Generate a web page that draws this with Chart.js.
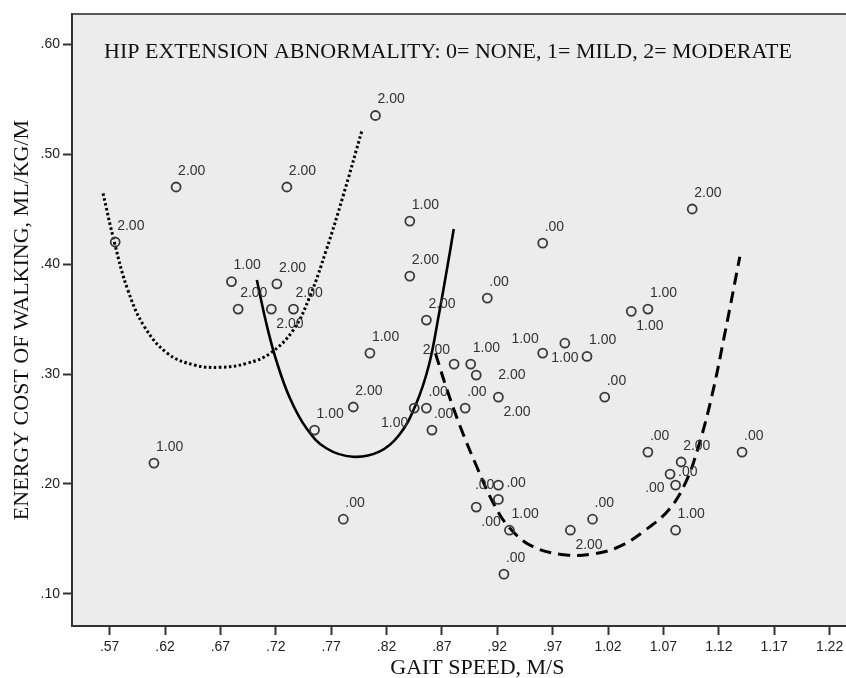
<!DOCTYPE html>
<html>
<head>
<meta charset="utf-8">
<script src="https://cdn.jsdelivr.net/npm/chart.js@4.4.1/dist/chart.umd.min.js"></script>
<style>
html,body{margin:0;padding:0;background:#ffffff;overflow:hidden;width:846px;height:678px}
canvas{display:block}
</style>
</head>
<body>
<canvas id="c" width="889" height="678"></canvas>
<script>
// ---------- text ----------
const chartTitle = 'HIP EXTENSION ABNORMALITY: 0= NONE, 1= MILD, 2= MODERATE';
const xAxisTitle = 'GAIT SPEED, M/S';
const yAxisTitle = 'ENERGY COST OF WALKING, ML/KG/M';

// ---------- ticks ----------
const xTickValues = [0.57, 0.62, 0.67, 0.72, 0.77, 0.82, 0.87, 0.92, 0.97, 1.02, 1.07, 1.12, 1.17, 1.22];
const xTickLabels = ['.57', '.62', '.67', '.72', '.77', '.82', '.87', '.92', '.97', '1.02', '1.07', '1.12', '1.17', '1.22'];
const yTickValues = [0.10, 0.20, 0.30, 0.40, 0.50, 0.60];
const yTickLabels = ['.10', '.20', '.30', '.40', '.50', '.60'];

// ---------- observations ----------
const gaitSpeed = [
  0.575, 0.630, 0.730, 0.810, 0.841, 0.841, 0.680, 0.721, 0.686, 0.716,
  0.736, 0.755, 0.790, 0.610, 0.781, 0.961, 0.911, 0.856, 0.805, 0.881,
  0.896, 0.901, 0.961, 0.981, 1.001, 0.921, 0.891, 0.856, 0.845, 0.861,
  1.017, 0.901, 0.921, 0.921, 0.931, 0.926, 0.986, 1.006, 1.056, 1.086,
  1.076, 1.081, 1.081, 1.141, 1.096, 1.041, 1.056
];
const energyCost = [
  0.420, 0.470, 0.470, 0.535, 0.439, 0.389, 0.384, 0.382, 0.359, 0.359,
  0.359, 0.249, 0.270, 0.219, 0.168, 0.419, 0.369, 0.349, 0.319, 0.309,
  0.309, 0.299, 0.319, 0.328, 0.316, 0.279, 0.269, 0.269, 0.269, 0.249,
  0.279, 0.179, 0.199, 0.186, 0.158, 0.118, 0.158, 0.168, 0.229, 0.220,
  0.209, 0.199, 0.158, 0.229, 0.450, 0.357, 0.359
];
const hipGroup = [
  2, 2, 2, 2, 1, 2, 1, 2, 2, 2,
  2, 1, 2, 1, 0, 0, 0, 2, 1, 2,
  1, 2, 1, 1, 1, 2, 0, 0, 1, 0,
  0, 0, 0, 0, 1, 0, 2, 0, 0, 2,
  0, 0, 1, 0, 2, 1, 1
];
// where each case label sits relative to its marker
const labelPlacement = [
  'ur','ur','ur','ur','ur','ur','ur','ur','ur','lr',
  'ur','ur','ur','ur','ur','ur','ur','ur','ur','ul',
  'ur','rr','ul','b','ur','lr','ur','ur','ll','ur',
  'ur','lr','r','ul','ur','ur','lr','ur','ur','ur',
  'r','l','ur','ur','ur','lr','ur'
];

// ---------- fit lines ----------
const fitModerateX = [0.5640, 0.5745, 0.5864, 0.6014, 0.6222, 0.6462, 0.6701, 0.6939, 0.7149, 0.7358, 0.7507, 0.7656, 0.7806, 0.7979];
const fitModerateY = [0.4643, 0.4188, 0.3764, 0.3430, 0.3188, 0.3082, 0.3061, 0.3097, 0.3188, 0.3400, 0.3703, 0.4127, 0.4612, 0.5218];
const fitMildX = [0.7029, 0.7118, 0.7208, 0.7328, 0.7477, 0.7656, 0.7895, 0.8135, 0.8314, 0.8463, 0.8583, 0.8672, 0.8747, 0.8807];
const fitMildY = [0.3855, 0.3445, 0.3112, 0.2779, 0.2506, 0.2325, 0.2248, 0.2294, 0.2445, 0.2718, 0.3082, 0.3536, 0.3961, 0.4318];
const fitNoneX = [0.8642, 0.8747, 0.8866, 0.9015, 0.9165, 0.9314, 0.9523, 0.9822, 1.0061, 1.0300, 1.0539, 1.0747, 1.0897, 1.1016, 1.1136, 1.1255, 1.1390];
const fitNoneY = [0.3188, 0.2855, 0.2521, 0.2157, 0.1825, 0.1597, 0.1430, 0.1355, 0.1364, 0.1430, 0.1582, 0.1764, 0.2006, 0.2339, 0.2794, 0.3370, 0.4066];

// ---------- build ----------
const pts = gaitSpeed.map((x, i) => ({ x: x, y: energyCost[i] }));
const zip = (xs, ys) => xs.map((x, i) => ({ x: x, y: ys[i] }));
const groupLabel = g => (g === 0 ? '.00' : g.toFixed(2));

const SANS = "'Liberation Sans', Arial, sans-serif";
const SERIF = "'Liberation Serif', 'Times New Roman', serif";
Chart.defaults.font.family = SANS;

const placeOffsets = {
  ur: { align: 'left', dx: 2, dy: -16 },
  ul: { align: 'right', dx: -4, dy: -14 },
  lr: { align: 'left', dx: 5, dy: 15 },
  ll: { align: 'right', dx: -6, dy: 15 },
  b:  { align: 'center', dx: 0, dy: 15 },
  r:  { align: 'left', dx: 8, dy: -2 },
  rr: { align: 'left', dx: 22, dy: 0 },
  l:  { align: 'right', dx: -11, dy: 3 }
};

const panelPlugin = {
  id: 'panel',
  beforeDraw(chart) {
    const { ctx, chartArea: a } = chart;
    ctx.save();
    ctx.fillStyle = '#ececec';
    ctx.fillRect(a.left, a.top, a.right - a.left, a.bottom - a.top);
    ctx.strokeStyle = '#5a5a5a';
    ctx.lineWidth = 2;
    ctx.beginPath();
    ctx.moveTo(a.left, a.top);
    ctx.lineTo(a.right, a.top);
    ctx.stroke();
    ctx.restore();
  },
  afterDatasetsDraw(chart) {
    const { ctx, chartArea: a } = chart;
    const meta = chart.getDatasetMeta(0);
    ctx.save();
    ctx.font = '14px ' + SANS;
    ctx.fillStyle = '#333333';
    ctx.textBaseline = 'middle';
    meta.data.forEach((el, i) => {
      const p = placeOffsets[labelPlacement[i]] || placeOffsets.ur;
      ctx.textAlign = p.align;
      ctx.fillText(groupLabel(hipGroup[i]), el.x + p.dx, el.y + p.dy);
    });
    ctx.font = '22px ' + SERIF;
    ctx.fillStyle = '#111111';
    ctx.textAlign = 'left';
    ctx.textBaseline = 'alphabetic';
    ctx.fillText(chartTitle, a.left + 32, a.top + 44);
    ctx.restore();
  }
};

new Chart(document.getElementById('c'), {
  type: 'scatter',
  data: {
    datasets: [
      {
        label: 'cases',
        data: pts,
        order: 0,
        showLine: false,
        pointStyle: 'circle',
        pointRadius: 4.5,
        pointHoverRadius: 4.5,
        pointBorderWidth: 1.8,
        pointBorderColor: '#3a3a3a',
        pointBackgroundColor: 'rgba(0,0,0,0)'
      },
      {
        label: 'fit 2',
        data: zip(fitModerateX, fitModerateY),
        order: 1,
        showLine: true,
        pointRadius: 0,
        borderColor: '#000000',
        borderWidth: 3,
        borderDash: [2.5, 2.5],
        tension: 0.4,
        fill: false
      },
      {
        label: 'fit 1',
        data: zip(fitMildX, fitMildY),
        order: 1,
        showLine: true,
        pointRadius: 0,
        borderColor: '#000000',
        borderWidth: 2.6,
        tension: 0.4,
        fill: false
      },
      {
        label: 'fit 0',
        data: zip(fitNoneX, fitNoneY),
        order: 1,
        showLine: true,
        pointRadius: 0,
        borderColor: '#000000',
        borderWidth: 3,
        borderDash: [12, 7],
        tension: 0.4,
        fill: false
      }
    ]
  },
  options: {
    responsive: false,
    animation: false,
    devicePixelRatio: 1,
    layout: { padding: { top: 14, left: 0, right: 0, bottom: 0 } },
    plugins: {
      legend: { display: false },
      tooltip: { enabled: false },
      title: { display: false }
    },
    scales: {
      x: {
        type: 'linear',
        min: 0.536,
        max: 1.268,
        afterBuildTicks: s => { s.ticks = xTickValues.map(v => ({ value: v })); },
        afterFit: s => { s.height = 52; },
        ticks: {
          autoSkip: false,
          maxRotation: 0,
          padding: 4,
          color: '#222222',
          font: { size: 14, family: SANS },
          callback: (v, i) => xTickLabels[i]
        },
        grid: { drawOnChartArea: false, drawTicks: true, tickLength: 9, tickWidth: 2, tickColor: '#333333' },
        border: { display: true, color: '#333333', width: 2 },
        title: {
          display: true,
          text: xAxisTitle,
          color: '#111111',
          font: { family: SERIF, size: 22, lineHeight: 1 },
          padding: { top: 0, bottom: -1 }
        }
      },
      y: {
        type: 'linear',
        min: 0.0709,
        max: 0.6273,
        afterBuildTicks: s => { s.ticks = yTickValues.map(v => ({ value: v })); },
        afterFit: s => { s.width = 72; },
        ticks: {
          autoSkip: false,
          padding: 3,
          color: '#222222',
          font: { size: 14, family: SANS },
          callback: (v, i) => yTickLabels[i]
        },
        grid: { drawOnChartArea: false, drawTicks: true, tickLength: 9, tickWidth: 2, tickColor: '#333333' },
        border: { display: true, color: '#333333', width: 2 },
        title: {
          display: true,
          text: yAxisTitle,
          color: '#111111',
          font: { family: SERIF, size: 22, lineHeight: 1.2 },
          padding: { top: 9, bottom: 0 }
        }
      }
    }
  },
  plugins: [panelPlugin]
});
</script>
</body>
</html>
